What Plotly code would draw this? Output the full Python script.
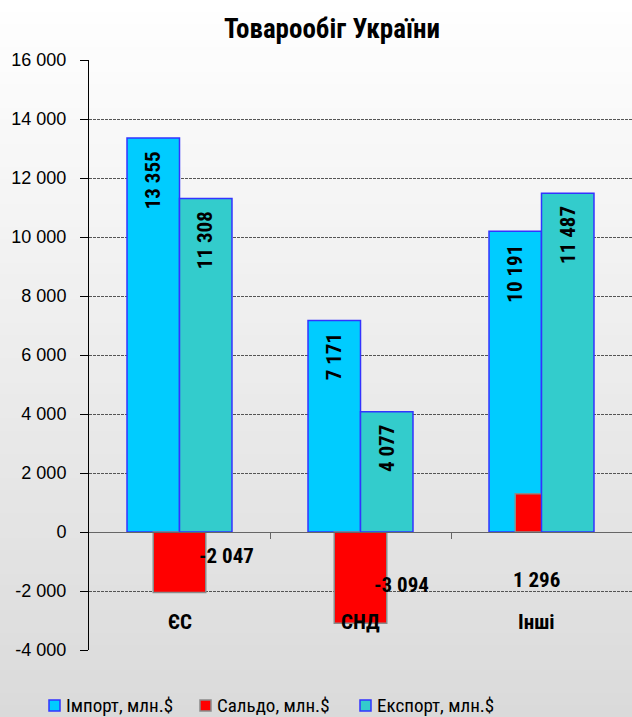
import plotly.graph_objects as go

# Trade turnover of Ukraine by region, mln USD
categories = ["ЄС", "СНД", "Інші"]
imports = [13355, 7171, 10191]
exports = [11308, 4077, 11487]
balance = [-2047, -3094, 1296]
y_ticks = list(range(-4000, 16001, 2000))

series_names = ["Імпорт, млн.$", "Сальдо, млн.$", "Експорт, млн.$"]
series_fill = ["#00CCFF", "#FF0000", "#33CCCC"]
series_edge = ["#3333FF", "#8a8a8a", "#3333FF"]

NARROW = "Roboto Condensed, Liberation Sans Narrow, Arial Narrow, sans-serif"
FONT = "Liberation Sans, Arial, sans-serif"


def fmt(v):
    return f"{v:,}".replace(",", " ")


BAR_W = 0.29
x_idx = list(range(len(categories)))

fig = go.Figure()
for vals, name, fill, edge, off in (
    (imports, series_names[0], series_fill[0], series_edge[0], -BAR_W),
    (balance, series_names[1], series_fill[1], series_edge[1], -BAR_W / 2),
    (exports, series_names[2], series_fill[2], series_edge[2], 0),
):
    fig.add_trace(go.Bar(
        x=x_idx, y=vals, name=name, width=BAR_W, offset=off,
        marker=dict(color=fill, line=dict(color=edge, width=1.5)),
        showlegend=False,
    ))

bold = dict(family=NARROW, size=21, color="black", weight="bold")
annotations = []
# vertical value labels near the top of import / export bars
for i in x_idx:
    for vals, dx in ((imports, -BAR_W / 2), (exports, BAR_W / 2)):
        annotations.append(dict(
            x=i + dx, y=vals[i], xref="x", yref="y",
            text=fmt(vals[i]), textangle=-90, showarrow=False,
            yanchor="top", yshift=-11, font=bold,
        ))

# balance labels placed beside the red bars
balance_label_pos = [(0.257, -814), (1.229, -1797), (1.975, -1627)]
for v, (lx, ly) in zip(balance, balance_label_pos):
    annotations.append(dict(
        x=lx, y=ly, xref="x", yref="y", text=fmt(v), showarrow=False,
        font=bold,
    ))

# category names inside the lower part of the plot
cat_label_dx = [0, 0, -0.025]
for i, name in enumerate(categories):
    annotations.append(dict(
        x=i + cat_label_dx[i], y=-3050, xref="x", yref="y", text=name,
        showarrow=False, font=bold,
    ))

W, H = 632, 717
ml, mt, mb = 89, 60, 67
pw, ph = W - ml, H - mt - mb


def px_x(px):
    return (px - ml) / pw


def px_y(py):
    return (H - mb - py) / ph


# soft vertical background gradient: white at the top to light grey below
shapes = []
n_bands = 60
for k in range(n_bands):
    top_px = H * k / n_bands
    bot_px = H * (k + 1) / n_bands + 1
    t = (top_px + bot_px) / 2 / H
    g = round(255 - 37 * t)
    shapes.append(dict(
        type="rect", xref="paper", yref="paper", layer="below",
        x0=px_x(0), x1=px_x(W + 2), y0=px_y(bot_px), y1=px_y(top_px),
        fillcolor=f"rgb({g},{g},{g})", line=dict(width=0),
    ))

# legend row under the plot
legend_marker_x = [49, 200, 360]
legend_text_x = [64, 215, 375]
for name, fill, edge, mx, tx in zip(series_names, series_fill, series_edge,
                                    legend_marker_x, legend_text_x):
    shapes.append(dict(
        type="rect", xref="paper", yref="paper", layer="above",
        x0=px_x(mx), x1=px_x(mx + 11), y0=px_y(711), y1=px_y(700),
        fillcolor=fill, line=dict(color=edge, width=1.5),
    ))
    annotations.append(dict(
        x=px_x(tx), y=px_y(705), xref="paper", yref="paper",
        xanchor="left", yanchor="middle", text=name, showarrow=False,
        font=dict(family=NARROW, size=19, color="black"),
    ))

fig.update_layout(
    width=W, height=H,
    margin=dict(l=ml, r=0, t=mt, b=mb),
    paper_bgcolor="#dadada",
    plot_bgcolor="rgba(0,0,0,0)",
    barmode="overlay",
    shapes=shapes,
    annotations=annotations,
    showlegend=False,
    title=dict(
        text="Товарообіг України", x=332 / W, xanchor="center",
        y=1 - 29 / H, yanchor="middle", xref="container", yref="container",
        font=dict(family=NARROW, size=27, color="black", weight="bold"),
    ),
    xaxis=dict(
        range=[-0.5, 2.5], anchor="free", position=0.2,
        showline=True, linecolor="#666666", linewidth=1,
        ticks="outside", tickvals=[0.5, 1.5], ticklen=6, tickcolor="#666666",
        showticklabels=False, showgrid=False, zeroline=False,
        fixedrange=True,
    ),
    yaxis=dict(
        range=[-4000, 16000], tickvals=y_ticks,
        ticktext=[fmt(v) for v in y_ticks],
        showline=True, linecolor="black", linewidth=1,
        ticks="outside", ticklen=8, tickcolor="black",
        ticklabelstandoff=10,
        tickfont=dict(family=FONT, size=18, color="black"),
        showgrid=True, gridcolor="#555555", gridwidth=1, griddash="3px,1px",
        zeroline=False, fixedrange=True,
    ),
)

fig.write_html("out.html")
